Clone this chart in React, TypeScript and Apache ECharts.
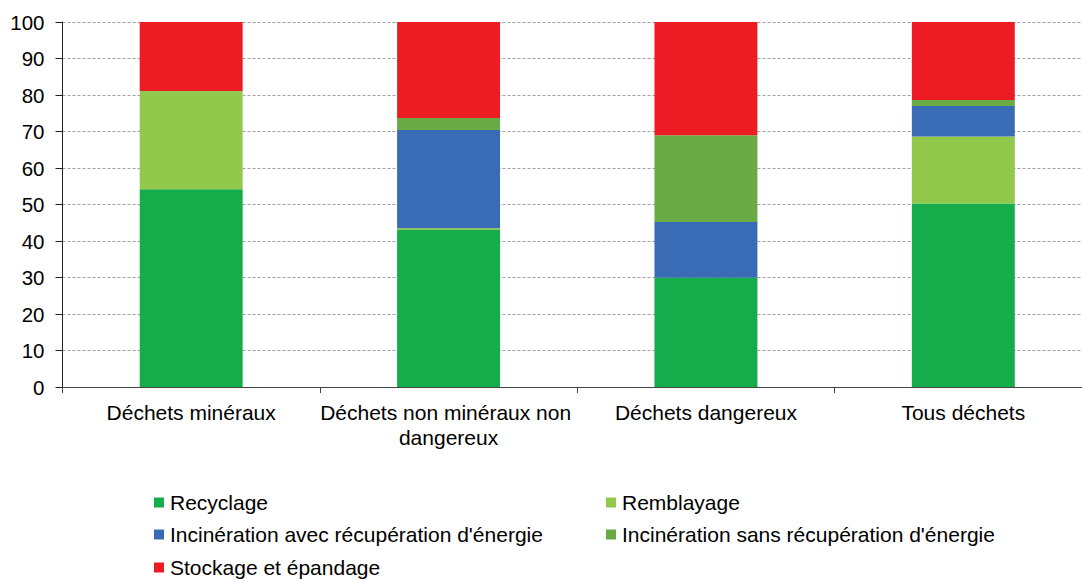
import React, { useEffect, useRef } from "react";
import * as echarts from "echarts";

const categories = [
  "Déchets minéraux",
  "Déchets non minéraux non dangereux",
  "Déchets dangereux",
  "Tous déchets",
];
const recyclage = [54.2, 43.0, 29.9, 50.3];
const remblayage = [26.9, 0.5, 0, 18.3];
const incinAvec = [0, 26.9, 15.3, 8.4];
const incinSans = [0, 3.3, 23.8, 1.6];
const stockage = [18.9, 26.3, 31.0, 21.4];

const seriesNames = [
  "Recyclage",
  "Remblayage",
  "Incinération avec récupération d'énergie",
  "Incinération sans récupération d'énergie",
  "Stockage et épandage",
];
const seriesValues = [recyclage, remblayage, incinAvec, incinSans, stockage];
const colors = ["#15ad4c", "#92c84b", "#3a6cb5", "#69aa45", "#ed1c24"];
const yTicks = [0, 10, 20, 30, 40, 50, 60, 70, 80, 90, 100];

const legendPos = [
  { left: 154, top: 492 },
  { left: 606, top: 492 },
  { left: 154, top: 524 },
  { left: 606, top: 524 },
  { left: 154, top: 557 },
];

export default function App() {
  const ref = useRef<HTMLDivElement>(null);
  useEffect(() => {
    if (!ref.current) return;
    const chart = echarts.init(ref.current, null, { renderer: "svg" });
    const font = "Liberation Sans, Arial, sans-serif";
    chart.setOption({
      animation: false,
      textStyle: { fontFamily: font },
      grid: {
        left: 62.5,
        right: 0,
        top: 22,
        bottom: 192,
        containLabel: false,
        outerBoundsMode: "none",
      },
      legend: seriesNames.map((n, i) => ({
        data: [n],
        left: legendPos[i].left,
        top: legendPos[i].top,
        icon: "rect",
        itemWidth: 10,
        itemHeight: 10,
        itemGap: 0,
        padding: 0,
        selectedMode: false,
        textStyle: { fontFamily: font, fontSize: 21, color: "#000", padding: [0, 0, 0, 1] },
      })),
      xAxis: {
        type: "category",
        data: categories,
        axisLine: { lineStyle: { color: "#444", width: 1 } },
        axisTick: { show: true, length: 6, lineStyle: { color: "#444" } },
        axisLabel: {
          fontSize: 21,
          color: "#000",
          fontFamily: font,
          margin: 13,
          lineHeight: 25,
          width: 285,
          overflow: "break",
          interval: 0,
        },
      },
      yAxis: {
        type: "value",
        min: yTicks[0],
        max: yTicks[yTicks.length - 1],
        interval: 10,
        axisLine: { show: true, lineStyle: { color: "#222", width: 1 } },
        axisTick: { show: true, length: 7, lineStyle: { color: "#222" } },
        splitLine: { lineStyle: { color: "#a0a0a0", type: [3, 2], width: 1 } },
        axisLabel: { fontSize: 20.5, color: "#000", fontFamily: font, margin: 18 },
      },
      series: seriesNames.map((n, i) => ({
        name: n,
        type: "bar",
        stack: "total",
        barWidth: "40%",
        data: seriesValues[i],
        itemStyle: { color: colors[i] },
      })),
    });
    return () => chart.dispose();
  }, []);
  return (
    <div style={{ width: 1082, height: 579, position: "absolute", left: 0, top: 0, overflow: "hidden" }}>
      <div ref={ref} style={{ width: 1092, height: 579 }} />
    </div>
  );
}
